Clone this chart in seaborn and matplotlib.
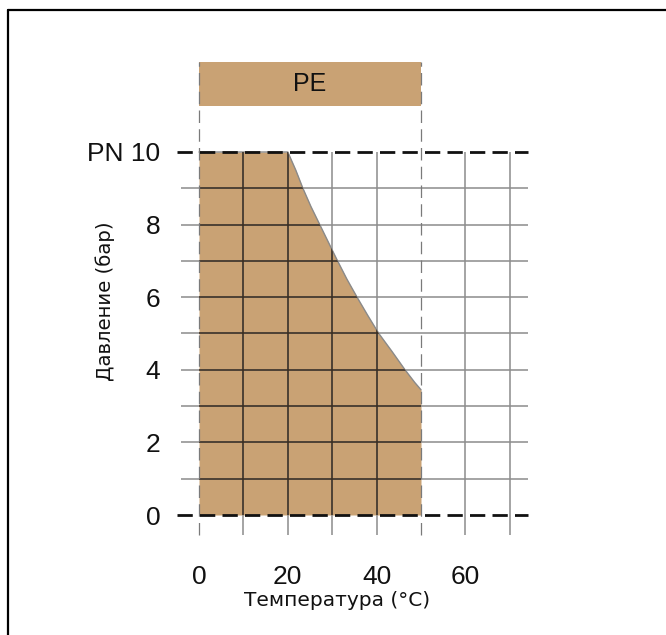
import numpy as np
import matplotlib
matplotlib.use("Agg")
import matplotlib.pyplot as plt
import seaborn as sns
from matplotlib.lines import Line2D

# data
temp = [0, 20, 21.8, 23.4, 25.2, 27.2, 29.2, 31.0, 33.3, 35.6, 38.0, 40.5, 43.5, 46.4, 48.6, 50]
press = [10, 10, 9.5, 9.0, 8.5, 8.0, 7.5, 7.05, 6.5, 6.0, 5.5, 5.0, 4.5, 4.0, 3.65, 3.45]
xticks = [0, 20, 40, 60]
xticklabels = ["0", "20", "40", "60"]
yticks = [0, 2, 4, 6, 8, 10]
yticklabels = ["0", "2", "4", "6", "8", "PN 10"]
vgrid = [10, 20, 30, 40, 60, 70]
hgrid = [1, 2, 3, 4, 5, 6, 7, 8, 9]
limit_lines = [0, 50]
material = "PE"

sns.set_style("white")
plt.rcParams['font.family'] = ['Liberation Sans', 'DejaVu Sans']

fill_col = "#c9a274"
grid_col = "#8c8c8c"
dark_col = "#3a2c1e"

fig = plt.figure(figsize=(6.66, 6.35), dpi=100)
ax = fig.add_axes([0.27213, 0.15467, 0.52, 0.7546])
ax.set_xlim(-4, 74)
ax.set_ylim(-0.6, 12.6)

# filled working area
poly = ax.fill_between(temp, press, 0, color=fill_col, lw=0, zorder=1)
sns.lineplot(x=temp, y=press, ax=ax, color="#8a8a8a", lw=1, zorder=2, sort=False)

# grid: gray on white, dark inside the fill
for y in hgrid:
    ax.hlines(y, -4, 74, color=grid_col, lw=1.1, zorder=2)
    h = ax.hlines(y, -4, 74, color=dark_col, lw=1.1, zorder=3)
    h.set_clip_path(poly.get_paths()[0], ax.transData)
for x in vgrid:
    ax.vlines(x, -0.55, 10, color=grid_col, lw=1.1, zorder=2)
    v = ax.vlines(x, -0.55, 10, color=dark_col, lw=1.1, zorder=3)
    v.set_clip_path(poly.get_paths()[0], ax.transData)

# material banner
ax.fill_between([0, 50], 11.27, 12.48, color=fill_col, lw=0, zorder=1)
ax.text(25, 11.88, material, ha="center", va="center", fontsize=18, color="#111111")

for x in limit_lines:
    ax.vlines(x, -0.55, 12.48, color="#7a7a7a", lw=0.9, linestyles=(0, (10, 5)), zorder=4)

for y in [0, 10]:
    ax.hlines(y, -5, 74, color="#111111", lw=2.0, linestyles=(0, (5.5, 2.6)), zorder=5, clip_on=False)

ax.set_xticks(xticks)
ax.set_xticklabels(xticklabels)
ax.set_yticks(yticks)
ax.set_yticklabels(yticklabels)
ax.tick_params(axis="both", length=0, labelsize=19, colors="#111111")
ax.tick_params(axis="y", pad=15)
ax.tick_params(axis="x", pad=20)
for s in ax.spines.values():
    s.set_visible(False)

ax.set_xlabel("Температура (°C)", fontsize=14.5, family=["DejaVu Sans"], va="center", ha="center", color="#111111")
ax.xaxis.set_label_coords(0.4498, -0.132)
ax.set_ylabel("Давление (бар)", fontsize=14.2, family=["DejaVu Sans"], va="center", ha="center", color="#111111")
ax.yaxis.set_label_coords(-0.2201, 0.492)

# frame pieces at top and left
fig.add_artist(Line2D([8 / 666, 8 / 666], [0, 1 - 10 / 635], color="black", lw=1.6))
fig.add_artist(Line2D([8 / 666, 1], [1 - 10 / 635, 1 - 10 / 635], color="black", lw=1.6))

fig.savefig("out.png", dpi=100)
